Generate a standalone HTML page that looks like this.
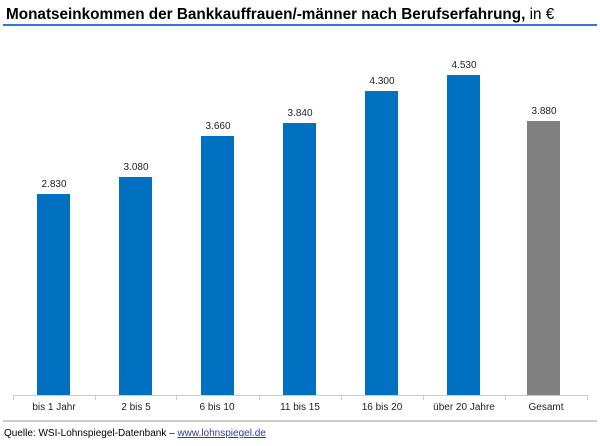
<!DOCTYPE html>
<html><head><meta charset="utf-8"><style>
body{margin:0;width:600px;height:446px;background:#fff;font-family:"Liberation Sans",Arial,sans-serif;position:relative;overflow:hidden}
.t{position:absolute;left:6px;top:6px;font-size:15.3px;font-weight:bold;color:#000;white-space:nowrap}
.t span{font-weight:normal}
.bl{position:absolute;left:3px;top:24px;width:594px;height:2px;background:#3e6fe0}
.bar{position:absolute;width:33px;background:#0070c0}
.v{position:absolute;width:60px;text-align:center;font-size:10px;color:#222}
.c{position:absolute;width:82px;text-align:center;font-size:10px;color:#222;top:402px}
.ax{position:absolute;left:13px;top:395px;width:574px;height:1px;background:#ccc}
.tk{position:absolute;top:395px;width:1px;height:5px;background:#ccc}
.gl{position:absolute;left:3px;top:420px;width:594px;height:2px;background:#ccc}
.s{position:absolute;left:4px;top:428px;font-size:10px;color:#000}
.s a{color:#2b3d9e;text-decoration:underline}
</style></head><body>
<div class="t">Monatseinkommen der Bankkauffrauen/-männer nach Berufserfahrung, <span>in €</span></div>
<div class="bl"></div>
<div class="bar" style="left:37px;top:194px;height:201px"></div>
<div class="bar" style="left:119px;top:177px;height:218px"></div>
<div class="bar" style="left:201px;top:136px;height:259px"></div>
<div class="bar" style="left:283px;top:123px;height:272px"></div>
<div class="bar" style="left:365px;top:91px;height:304px"></div>
<div class="bar" style="left:447px;top:75px;height:320px"></div>
<div class="bar" style="left:527px;top:121px;height:274px;background:#808080"></div>
<div class="v" style="left:24px;top:179px">2.830</div>
<div class="v" style="left:106px;top:162px">3.080</div>
<div class="v" style="left:188px;top:121px">3.660</div>
<div class="v" style="left:270px;top:108px">3.840</div>
<div class="v" style="left:352px;top:76px">4.300</div>
<div class="v" style="left:434px;top:60px">4.530</div>
<div class="v" style="left:514px;top:106px">3.880</div>
<div class="ax"></div>
<div class="tk" style="left:13px"></div><div class="tk" style="left:95px"></div><div class="tk" style="left:176px"></div><div class="tk" style="left:259px"></div><div class="tk" style="left:341px"></div><div class="tk" style="left:423px"></div><div class="tk" style="left:505px"></div><div class="tk" style="left:587px"></div>
<div class="c" style="left:13px">bis 1 Jahr</div>
<div class="c" style="left:95px">2 bis 5</div>
<div class="c" style="left:176px">6 bis 10</div>
<div class="c" style="left:259px">11 bis 15</div>
<div class="c" style="left:341px">16 bis 20</div>
<div class="c" style="left:423px">über 20 Jahre</div>
<div class="c" style="left:505px">Gesamt</div>
<div class="gl"></div>
<div class="s">Quelle: WSI-Lohnspiegel-Datenbank – <a>www.lohnspiegel.de</a></div>
</body></html>
